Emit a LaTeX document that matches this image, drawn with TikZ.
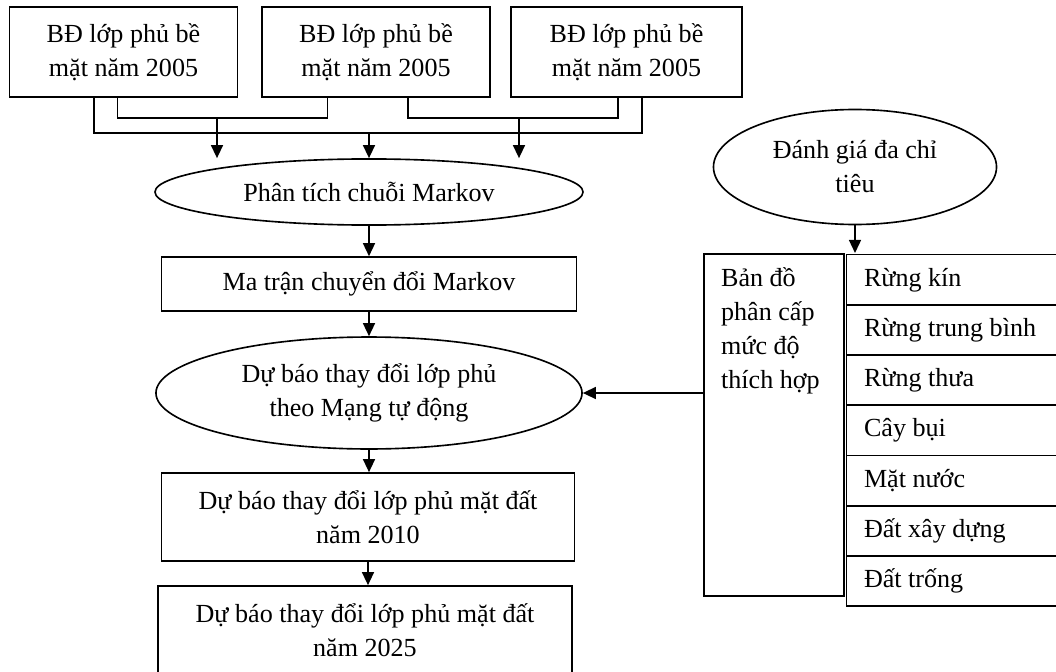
\documentclass[tikz,border=0pt]{standalone}
\usepackage{fontspec}
\setmainfont{Liberation Serif}
\usetikzlibrary{matrix,shapes.geometric,arrows.meta}

\begin{document}
\begin{tikzpicture}[x=0.46pt,y=-0.46pt,line width=0.75pt,
		every node/.style={font=\fontsize{12}{15.6}\selectfont},
		box/.style={draw,rectangle,align=center,inner sep=0pt},
		oval/.style={draw,ellipse,align=center,inner sep=0pt},
		cell/.style={draw,text width=84pt,align=flush left,inner xsep=8pt,inner ysep=0pt,minimum height=23.1pt},
		>={Triangle[length=6pt,width=5.5pt]}]
		\useasboundingbox (0,0) rectangle (1056,671);
		
		\node(b1)[box,minimum width=104.9pt,minimum height=41.4pt] at (123.5,52) {BĐ lớp phủ bề\\mặt năm 2005};
		\node(b2)[box,minimum width=104.9pt,minimum height=41.4pt] at (376,52) {BĐ lớp phủ bề\\mặt năm 2005};
		\node(b3)[box,minimum width=106.5pt,minimum height=41.4pt] at (626.5,52) {BĐ lớp phủ bề\\mặt năm 2005};
		\node(e1)[oval,minimum width=196.9pt,minimum height=30.4pt] at (369,192) {Phân tích chuỗi Markov};
		\node(m)[box,minimum width=190.9pt,minimum height=24.8pt] at (369,284) {Ma trận chuyển đổi Markov};
		\node(e2)[oval,minimum width=196pt,minimum height=51.5pt] at (369,393) {Dự báo thay đổi lớp phủ\\theo Mạng tự động};
		\node(f1)[box,minimum width=190pt,minimum height=40.5pt] at (368,517) {Dự báo thay đổi lớp phủ mặt đất\\năm 2010};
		\node(f2)[box,minimum width=190.4pt,minimum height=40.5pt] at (365,630) {Dự báo thay đổi lớp phủ mặt đất\\năm 2025};
		\node(ev)[oval,minimum width=130.2pt,minimum height=52.9pt] at (855,167) {Đánh giá đa chỉ\\tiêu};
		
		\matrix(t)[matrix of nodes,nodes={cell},row sep=-\pgflinewidth,inner sep=0pt,anchor=north west] at (845,253) {
			Rừng kín \\
			Rừng trung bình \\
			Rừng thưa \\
			Cây bụi \\
			Mặt nước \\
			Đất xây dựng \\
			Đất trống \\
		};
		\node(lc)[draw,anchor=north east,inner sep=0pt,minimum width=64.4pt,minimum height=157.5pt,
			label={[anchor=north west,align=left,inner sep=0pt,xshift=7.8pt,yshift=-6.4pt]north west:Bản đồ\\phân cấp\\mức độ\\thích hợp}] at (t.north west) {};
		
		\coordinate(p1) at (94,133);
		\coordinate(p2) at (642,133);
		\coordinate(q1) at (117.5,118);
		\coordinate(q2) at (327.5,118);
		\coordinate(q3) at (408,118);
		\coordinate(q4) at (618,118);
		\coordinate(a1) at (217,118);
		\coordinate(a2) at (369,133);
		\coordinate(a3) at (519,118);
		
		\draw
		(b1.south -| p1)--(p1)--(p2)--(b3.south -| p2)
		(b1.south -| q1)--(q1)--(q2)--(b2.south -| q2)
		(b2.south -| q3)--(q3)--(q4)--(b3.south -| q4);
		
		\draw[every edge/.append style={->}]
		(a1)edge(a1 |- e1.north)
		(a2)edge(e1)
		(a3)edge(a3 |- e1.north)
		(e1)edge(e1 |- m.north)
		(m)edge(m |- e2.north)
		(e2)edge(e2 |- f1.north)
		(f1)edge(f1 |- f2.north)
		(ev)edge(ev |- t.north)
		(lc.west |- e2)edge(e2);
\end{tikzpicture}
\end{document}
